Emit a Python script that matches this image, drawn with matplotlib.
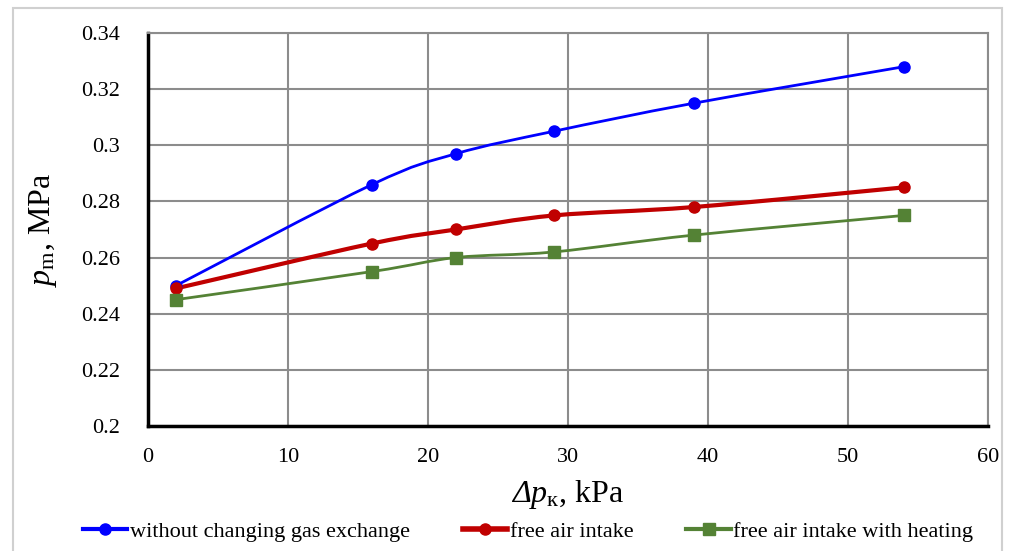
import numpy as np
import matplotlib
matplotlib.use("Agg")
from matplotlib import pyplot as plt
from matplotlib.path import Path
from matplotlib.patches import PathPatch, Rectangle
from matplotlib.lines import Line2D

dp_k = [2, 16, 22, 29, 39, 54]
p_base = [0.250, 0.286, 0.297, 0.305, 0.315, 0.328]
p_free = [0.249, 0.265, 0.270, 0.275, 0.278, 0.285]
p_heat = [0.245, 0.255, 0.260, 0.262, 0.268, 0.275]

plt.rcParams['font.family'] = ['Liberation Serif', 'DejaVu Serif']
plt.rcParams['mathtext.fontset'] = 'custom'
plt.rcParams['mathtext.it'] = 'Liberation Serif:italic'
plt.rcParams['mathtext.sf'] = 'Liberation Serif:italic'  # for the italic capital delta
plt.rcParams['mathtext.rm'] = 'Liberation Serif'


def smooth_path(x, y, t=1/6):
    # cubic bezier through the points, like spreadsheet "smoothed line"
    x = np.asarray(x, float)
    y = np.asarray(y, float)
    verts = [(x[0], y[0])]
    codes = [Path.MOVETO]
    n = len(x)
    for i in range(n - 1):
        i0 = max(i - 1, 0)
        i3 = min(i + 2, n - 1)
        c1 = (x[i] + (x[i + 1] - x[i0]) * t, y[i] + (y[i + 1] - y[i0]) * t)
        c2 = (x[i + 1] - (x[i3] - x[i]) * t, y[i + 1] - (y[i3] - y[i]) * t)
        verts += [c1, c2, (x[i + 1], y[i + 1])]
        codes += [Path.CURVE4] * 3
    return Path(verts, codes)


fig = plt.figure(figsize=(10.14, 5.51), dpi=100)
fig.patches.append(Rectangle((0.013, -0.01), 0.975, 0.996, transform=fig.transFigure,
                             fill=False, edgecolor='#d0d0d0', linewidth=1.5))
ax = fig.add_axes([0.146, 0.227, 0.828, 0.713])

series = [
    (p_base, '#0000ff', 'o', 2.0, 'without changing gas exchange'),
    (p_free, '#c00000', 'o', 3.0, 'free air intake'),
    (p_heat, '#548235', 's', 2.0, 'free air intake with heating'),
]
handles = []
for vals, col, mk, lw, lab in series:
    ax.add_patch(PathPatch(smooth_path(dp_k, vals), facecolor='none',
                           edgecolor=col, linewidth=lw, zorder=3))
    ax.plot(dp_k, vals, linestyle='none', marker=mk, markersize=8,
            color=col, zorder=4)
    handles.append(Line2D([], [], color=col, linewidth=lw + 1, marker=mk,
                          markersize=8, label=lab))

ax.set_xlim(0, 60)
ax.set_ylim(0.2, 0.34)
ax.set_xticks(range(0, 61, 10))
ax.set_yticks(np.arange(0.2, 0.341, 0.02))
ax.set_yticklabels(['0.2', '0.22', '0.24', '0.26', '0.28', '0.3', '0.32', '0.34'])
ax.grid(True, color='#8c8c8c', linewidth=1.5)
ax.set_axisbelow(True)
for s in ['top', 'right']:
    ax.spines[s].set_color('#8c8c8c')
    ax.spines[s].set_linewidth(1.5)
for s in ['left', 'bottom']:
    ax.spines[s].set_color('black')
    ax.spines[s].set_linewidth(2.5)
ax.tick_params(axis='y', length=0, labelsize=16, pad=20)
ax.tick_params(axis='x', length=0, labelsize=16, pad=16)

ax.set_xlabel(r'$\mathsf{Δ}\mathit{p}_{\mathrm{к}}$, kPa', fontsize=23, labelpad=8)
ax.set_ylabel(r'$\mathit{p}_{\mathrm{m}}$, MPa', fontsize=23, labelpad=16)

fig.legend(handles=handles, loc='lower left', bbox_to_anchor=(0.062, -0.02),
           ncol=3, frameon=False, fontsize=16, handlelength=2.0,
           handletextpad=0.1, columnspacing=2.4)

fig.savefig('out.png', dpi=100)
